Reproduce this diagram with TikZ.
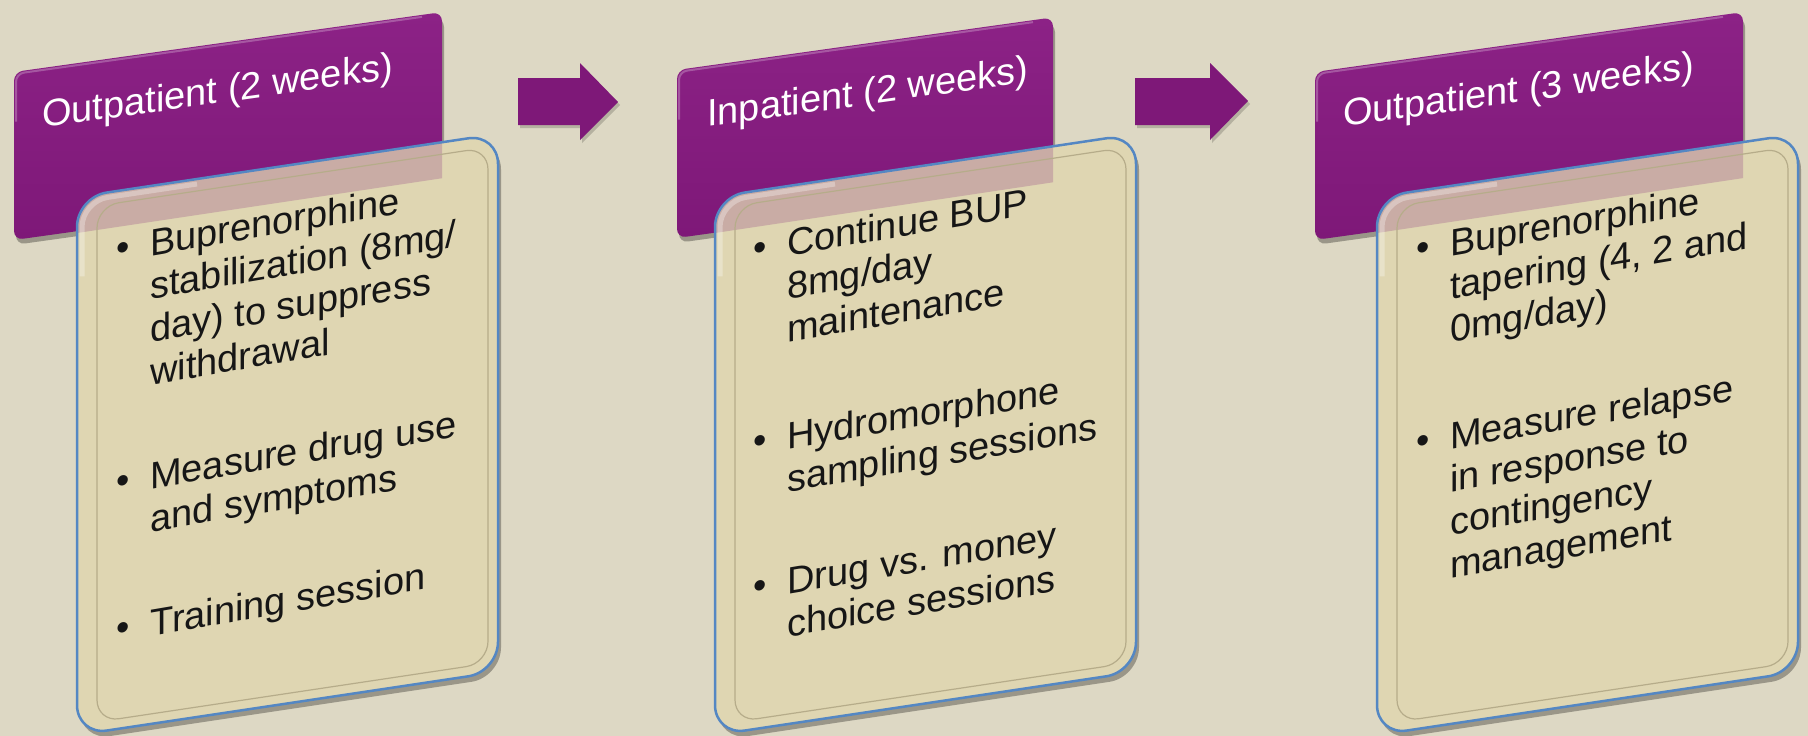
\documentclass[tikz,border=0pt]{standalone}
\usepackage{fontspec}
\setmainfont{Liberation Sans}
\definecolor{bg}{RGB}{221,216,196}
\definecolor{purp}{RGB}{126,24,120}
\definecolor{purptop}{RGB}{140,34,134}
\definecolor{beige}{RGB}{223,214,178}
\definecolor{edgeblue}{RGB}{84,135,195}
\definecolor{innerline}{RGB}{182,172,138}
\definecolor{bodytext}{RGB}{22,22,22}
\newcommand\bul{\rule{0pt}{30pt}\llap{\textbullet\hspace{20pt}}}
% #1 purple x, #2 purple y, #3 purple width, #4 beige x, #5 overlap width
\newcommand\phasepanel[5]{%
  \begin{scope}[shift={(#1,#2)}, yslant=0.14]
    \fill[black, opacity=0.3, rounded corners=9pt] (2,6) rectangle (#3+2,173);
    \shade[top color=purptop, bottom color=purp, rounded corners=9pt] (0,0) rectangle (#3,168);
    \draw[white, opacity=0.25, line width=2pt, rounded corners=8pt] (2,50) -- (2,2) -- (#3-20,2);
  \end{scope}
  \begin{scope}[shift={(#4,197)}, yslant=0.15]
    \fill[black, opacity=0.3, rounded corners=30pt] (3,6) rectangle (424,544);
    \fill[beige, rounded corners=30pt] (0,0) rectangle (421,538);
    \begin{scope}
      \clip[rounded corners=30pt] (0,0) rectangle (421,538);
      \fill[purp, opacity=0.22] (-5,-5) rectangle (#5,36);
      \draw[white, opacity=0.3, line width=5pt, rounded corners=26pt] (5,80) -- (5,5) -- (120,5);
    \end{scope}
    \draw[innerline, line width=1.2pt, rounded corners=22pt] (20,12) rectangle (411,528);
    \draw[edgeblue, line width=2.5pt, rounded corners=30pt] (0,0) rectangle (421,538);
  \end{scope}
}
\begin{document}
\begin{tikzpicture}[x=1pt,y=-1pt,
  title/.style={text=white, font=\fontsize{38}{44}\selectfont, anchor=base west, inner sep=0pt, yslant=0.14},
  body/.style={text=bodytext, font=\fontsize{38}{43}\selectfont, anchor=north west, inner sep=0pt, align=left, yslant=0.17},
  blockarrow/.style={fill=purp},
  arrowshadow/.style={fill=black, opacity=0.18}]
\fill[bg] (0,0) rectangle (1808,736);
\useasboundingbox (0,0) rectangle (1808,736);

% block arrows
\fill[arrowshadow] (520,81) -- (582,81) -- (582,66) -- (620,105) -- (582,143) -- (582,128) -- (520,128) -- cycle;
\fill[blockarrow] (518,78) -- (580,78) -- (580,63) -- (618,102) -- (580,140) -- (580,125) -- (518,125) -- cycle;
\fill[arrowshadow] (1137,81) -- (1212,81) -- (1212,66) -- (1250,104) -- (1212,143) -- (1212,128) -- (1137,128) -- cycle;
\fill[blockarrow] (1135,78) -- (1210,78) -- (1210,63) -- (1248,101) -- (1210,140) -- (1210,125) -- (1135,125) -- cycle;

% panels
\phasepanel{14}{72}{428}{77}{365}
\phasepanel{677}{70}{376}{715}{338}
\phasepanel{1315}{72}{428}{1377}{366}

% titles
\node[title] (t1) at (42,128) {Outpatient (2 weeks)};
\node[title] (t2) at (707,127) {Inpatient (2 weeks)};
\node[title] (t3) at (1343,127) {Outpatient (3 weeks)};

% bodies
\node[body] (b1) at (150,226) {\bul Buprenorphine\\stabilization (8mg/\\day) to suppress\\withdrawal\\[61pt]\bul Measure drug use\\and symptoms\\[61pt]\bul Training session};
\node[body] (b2) at (787,226) {\bul Continue BUP\\8mg/day\\maintenance\\[64pt]\bul Hydromorphone\\sampling sessions\\[59pt]\bul Drug vs. money\\choice sessions};
\node[body] (b3) at (1450,226) {\bul Buprenorphine\\tapering (4, 2 and\\0mg/day)\\[64pt]\bul Measure relapse\\in response to\\contingency\\management};
\end{tikzpicture}
\end{document}
